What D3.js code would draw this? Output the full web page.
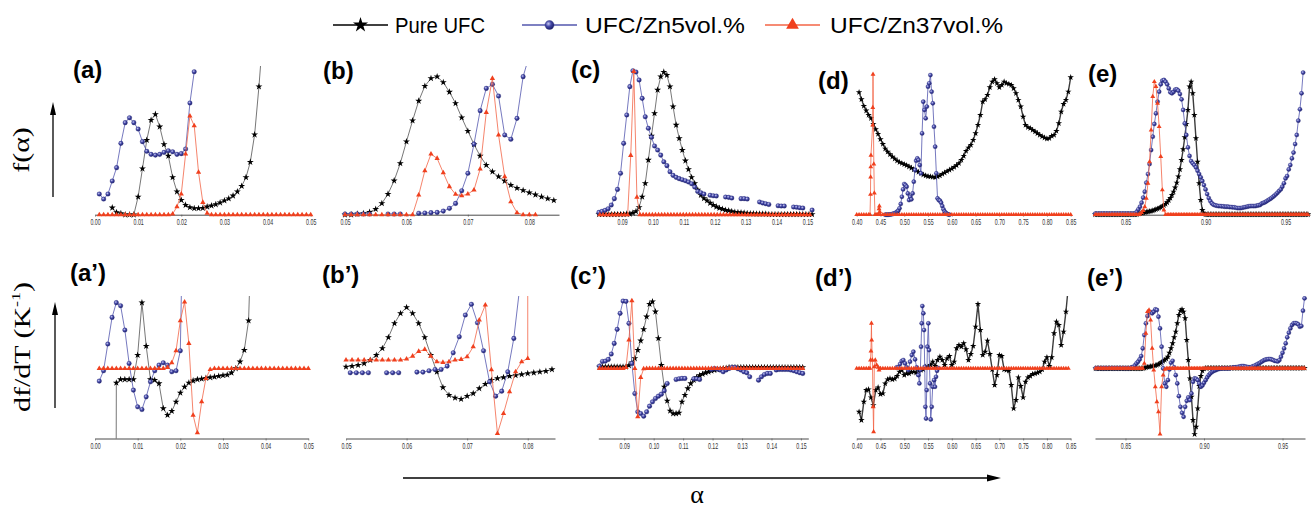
<!DOCTYPE html>
<html>
<head>
<meta charset="utf-8">
<script src="https://cdn.jsdelivr.net/npm/d3@7"></script>
<style>
  body { margin: 0; background: #fff; }
  svg { display: block; }
</style>
</head>
<body>
<svg id="chart" width="1311" height="510"></svg>
<script>
// Sample positions for regularly spaced measurements
const grid = (start, step, n) => d3.range(n).map(i => +(start + i * step).toFixed(5));

// ---------------- legend / tick labels ----------------
const seriesNames = ["Pure UFC", "UFC/Zn5vol.%", "UFC/Zn37vol.%"];
const ticksA = [0.00, 0.01, 0.02, 0.03, 0.04, 0.05];
const ticksB = [0.05, 0.06, 0.07, 0.08];
const ticksC = [0.09, 0.10, 0.11, 0.12, 0.13, 0.14, 0.15];
const ticksD = [0.40, 0.45, 0.50, 0.55, 0.60, 0.65, 0.70, 0.75, 0.80, 0.85];
const ticksE = [0.85, 0.90, 0.95];

// ---------------- f(alpha) panels (relative units) ----------------
const aPure = [0.048,0.016,0.009,0,0,0,0.124,0.318,0.516,0.654,0.694,0.608,0.486,0.406,0.258,0.159,0.101,0.067,0.051,0.044,
  0.044,0.046,0.055,0.062,0.071,0.083,0.097,0.111,0.131,0.159,0.198,0.258,0.364,0.553,0.885,1.27];
const aZn5 = [0.143,0.108,0.143,0.233,0.325,0.493,0.636,0.670,0.636,0.592,0.505,0.438,0.417,0.412,0.417,0.431,0.442,0.435,0.417,0.422,
  0.454,0.772,0.988];
const aZn37 = [0,0,0,0,0,0,0,0,0,0,
  0,0,0,0,0,0,0,0.005,0.055,0.143,
  0.419,0.682,0.615,0.293,0.085,0.01,0,0,0,0,
  0,0,0,0,0,0,0,0,0,0,
  0,0,0,0,0,0,0,0,0,0];

const bPure = [0,0,0.005,0.009,0.018,0.039,0.078,0.143,0.235,0.355,
  0.505,0.650,0.786,0.889,0.942,0.954,0.915,0.848,0.770,0.671,
  0.578,0.486,0.406,0.343,0.297,0.263,0.233,0.205,0.184,0.168,
  0.152,0.138,0.124,0.111,0.099];
const bZn5 = [0.005,0.005,0.005,0.005,0.005,null,null,0.005,0.005,0.005,
  null,null,0.010,0.012,0.014,0.016,0.025,0.044,0.078,0.166,
  0.286,0.488,0.719,0.873,0.901,0.820,0.551,0.521,0.666,0.954,1.1];
const bZn37 = [0,0,0,0,0,0,0,0,0,0,
  0,0,0.136,0.304,0.419,0.389,0.290,0.194,0.141,0.131,
  0.143,0.171,0.316,0.707,0.942,0.551,0.263,0.090,0.014,0,
  0,0];

const cPure = [0.002,0.002,0.002,0.002,0.002,0.002,0.002,0.002,0.002,0.005,
  0.005,0.012,0.023,0.051,0.124,0.217,0.378,0.544,0.700,0.862,
  0.954,0.986,0.965,0.885,0.747,0.620,0.528,0.447,0.373,0.313,
  0.258,0.217,0.171,0.136,0.113,0.097,0.081,0.067,0.055,0.046,
  0.039,0.032,0.028,0.023,0.018,0.016,0.014,0.012,0.009,0.007,
  0.007,0.005,0.005,0.005,0.005,0.002,0.002,0.002,0.002,0.002,
  0.002,0.002,0.002,0.002,0.002,0.002,0.002,0.002,0.002,0.002];
const cZn5 = [0.016,0.023,0.030,0.041,0.067,0.111,0.175,0.286,0.493,0.689,
  0.885,0.995,0.986,0.931,0.804,0.677,0.597,0.535,0.475,0.447,
  0.412,0.366,0.339,0.297,0.272,0.258,0.249,0.242,0.235,0.226,
  0.214,0.191,0.161,0.152,0.143,null,0.134,0.131,0.129,null,
  null,0.122,0.120,0.115,null,null,0.111,0.111,0.108,null,
  null,null,0.088,0.081,0.076,0.071,null,null,0.062,0.060,
  0.060,null,null,0.053,0.051,0.048,0.046,null,null,0.032];
const cZn37 = [0,0,0,0,0,0,0,0,0,0,
  0.41,0.99,0.12,0,0,0,0,0,0,0,
  0,0,0,0,0,0,0,0,0,0,
  0,0,0,0,0,0,0,0,0,0,
  0,0,0,0,0,0,0,0,0,0,
  0,0,0,0,0,0,0,0,0,0,
  0,0,0,0,0,0,0,0,0];

const dPure = [0.846,0.797,0.751,0.719,0.689,0.666,0.627,0.590,0.558,0.521,
  0.488,0.456,0.435,0.417,0.401,0.387,0.373,0.362,0.355,0.348,
  0.341,0.332,0.323,0.313,0.304,0.295,0.286,0.276,0.270,0.265,
  0.263,0.260,0.258,0.263,0.270,0.281,0.290,0.300,0.309,0.318,
  0.329,0.341,0.355,0.378,0.406,0.440,0.463,0.482,0.516,0.562,
  0.620,0.689,0.781,0.797,0.827,0.880,0.919,0.935,0.908,0.880,
  0.896,0.919,0.908,0.903,0.896,0.873,0.839,0.793,0.747,0.677,
  0.620,0.604,0.597,0.585,0.574,0.562,0.551,0.541,0.532,0.525,
  0.528,0.544,0.551,0.578,0.631,0.712,0.765,0.793,0.850,0.949];
const dZn5 = [0,0,0,0,0.002,0.002,0.005,0.007,0.009,0.014,
  0.021,0.028,0.044,0.074,0.124,0.175,0.212,0.205,0.194,0.147,
  0.101,0.124,0.106,0.147,0.228,0.309,0.373,0.389,0.378,0.343,
  0.286,0.562,0.781,0.724,0.666,0.747,0.885,0.908,0.965,0.850,
  0.770,0.608,0.470,0.286,0.113,0.101,0.097,0.083,0.060,0.037,
  0.021,0.012,0.005,0.002,0];
const dZn37X = [...grid(0.400, 0.005, 6),
  0.4280,0.4290,0.4293,0.4296,0.4300,0.4335,0.4338,0.4343,0.4360,0.4371,0.4385,0.4410,0.4435,0.4460,0.4470,0.4477,0.4485,0.4495,
  ...grid(0.455, 0.005, 80)];
const dZn37 = [0,0,0,0,0,0,
  0,0.14,0.26,0.33,0.41,0.62,0.74,0.97,0.35,0.15,0,0,0,0,0.04,0.06,0.02,0,
  0,0,0,0,0,0,0,0,0,0, 0,0,0,0,0,0,0,0,0,0, 0,0,0,0,0,0,0,0,0,0, 0,0,0,0,0,0,0,0,0,0,
  0,0,0,0,0,0,0,0,0,0, 0,0,0,0,0,0,0,0,0,0, 0,0,0,0,0,0,0,0,0,0, 0,0,0,0,0,0,0,0,0,0];

const ePure = [0.002,0.002,0.002,0.002,0.002,0.002,0.002,0.002,0.002,0.002,
  0.002,0.002,0.002,0.002,0.002,0.002,0.002,0.002,0.002,0.002,
  0.002,0.002,0.002,0.002,0.002,0.002,0.002,0.007,0.009,0.012,
  0.014,0.016,0.018,0.021,0.023,0.025,0.028,0.032,0.037,0.041,
  0.046,0.051,0.058,0.065,0.074,0.085,0.099,0.115,0.136,0.159,
  0.187,0.221,0.263,0.313,0.378,0.452,0.535,0.627,0.724,0.885,
  0.919,0.839,0.689,0.528,0.366,0.217,0.101,0.032,0.009,0.002,
  0.002,0.002,0.002,0.002,0.002,0.002,0.002,0.002,0.002,0.002,
  0.002,0.002,0.002,0.002,0.002,0.002,0.002,0.002,0.002,0.002,
  0.002,0.002,0.002,0.002,0.002,0.002,0.002,0.002,0.002,0.002,
  0.002,0.002,0.002,0.002,0.002,0.002,0.002,0.002,0.002,0.002,
  0.002,0.002,0.002,0.002,0.002,0.002,0.002,0.002,0.002,0.002,
  0.002,0.002,0.002,0.002,0.002,0.002,0.002,0.002,0.002,0.002,
  0.002,0.002,0.002,0.002];
const eZn5 = [0.007,0.007,0.007,0.007,0.007,0.007,0.007,0.007,0.007,0.007,
  0.007,0.007,0.007,0.007,0.007,0.007,0.007,0.007,0.007,0.007,
  0.007,0.007,0.007,0.007,0.007,0.007,0.021,0.037,0.055,0.083,
  0.118,0.159,0.221,0.281,0.350,0.447,0.539,0.627,0.700,0.781,
  0.850,0.901,0.926,0.931,0.919,0.901,0.873,0.846,0.839,0.848,
  0.864,0.866,0.857,0.834,0.797,0.724,0.631,0.551,0.465,0.406,
  0.371,0.355,0.343,0.327,0.304,0.281,0.258,0.233,0.205,0.175,
  0.143,0.115,0.094,0.078,0.069,0.065,0.062,0.060,0.060,0.058,
  0.058,0.055,0.055,0.055,0.053,0.053,0.051,0.051,0.048,0.046,
  0.046,0.046,0.048,0.051,0.053,0.055,0.058,0.060,0.060,0.060,
  0.060,0.062,0.065,0.067,0.076,0.081,0.085,0.092,0.099,0.106,
  0.113,0.122,0.131,0.141,0.152,0.164,0.175,0.194,0.217,0.251,
  0.267,0.313,0.343,0.389,0.429,0.488,0.551,0.650,0.728,0.839,
  0.982];
const eZn37 = [0,0,0,0,0,0,0,0,0,0,
  0,0,0,0,0,0,0,0,0,0,
  0,0,0,0,0,0,0,0,0.005,0.014,
  0.028,0.055,0.113,0.217,0.366,0.585,0.816,0.919,0.885,0.770,
  0.608,0.401,0.171,0.032,0,0,0,0,0,0,
  0,0,0,0,0,0,0,0,0,0, 0,0,0,0,0,0,0,0,0,0,
  0,0,0,0,0,0,0,0,0,0, 0,0,0,0,0,0,0,0,0,0,
  0,0,0,0,0,0,0,0,0,0, 0,0,0,0,0,0,0,0,0,0,
  0,0,0,0,0,0,0,0,0,0, 0,0,0,0,0,0,0,0,0,0,
  0,0,0,0];

// ---------------- df/dT panels (relative units) ----------------
const apPure = [-30,-0.210,-0.161,-0.161,-0.161,-0.161,0.195,0.961,0.327,-0.161,
  -0.171,-0.220,-0.585,-0.683,-0.624,-0.488,-0.356,-0.268,-0.210,-0.180,
  -0.161,-0.151,-0.141,-0.132,-0.122,-0.112,-0.102,-0.093,-0.063,0,
  0.098,0.268,0.698,2.7];
const apZn5 = [-0.185,-0.034,0.356,0.746,0.961,0.917,0.561,0.073,-0.317,-0.561,
  -0.600,-0.415,-0.195,-0.034,0.049,0.083,0.049,-0.049,-0.034,0.259,3.7];
const apZn37 = [0,0,0,0,0,0,0,0,0,0,
  0,0,0,0,0,0,0.015,0.083,0.259,0.698,
  0.971,0.366,-0.683,-0.941,-0.488,-0.146,-0.015,0,0,0,
  0,0,0,0,0,0,0,0,0,0,
  0,0,0,0,0,0,0,0,0,0];

const bpPure = [0.024,0.034,0.049,0.073,0.122,0.195,0.293,0.454,0.659,0.805,
  0.893,0.805,0.659,0.454,0.195,-0.049,-0.278,-0.390,-0.429,-0.449,
  -0.405,-0.366,-0.293,-0.229,-0.171,-0.146,-0.132,-0.112,-0.102,-0.088,
  -0.073,-0.063,-0.049,-0.039,-0.015];
const bpZn5 = [-0.063,-0.063,-0.063,-0.063,null,null,-0.063,-0.063,-0.063,null,
  null,-0.054,-0.054,-0.034,-0.015,-0.015,0.034,0.229,0.463,0.780,
  0.937,0.668,0.259,-0.195,-0.405,-0.332,-0.049,0.439,1.2];
const bpZn37X = [...grid(0.050, 0.001, 31), 0.0801];
const bpZn37 = [0.122,0.122,0.122,0.122,0.122,0.122,0.122,0.122,0.122,0.122,
  0.137,0.180,0.249,0.278,0.180,0.098,0.088,0.098,0.122,0.132,
  0.171,0.317,0.707,0.927,-0.02,-0.951,-0.659,-0.341,-0.049,0.098,
  0.146,40];

const cpPure = [0.024,0.024,0.024,0.024,0.024,0.024,0.024,0.024,0.024,0.024,
  0.044,0.083,0.146,0.268,0.405,0.571,0.756,0.941,0.976,0.829,
  0.439,0.049,-0.268,-0.473,-0.620,-0.659,-0.659,-0.649,-0.488,-0.390,
  -0.293,-0.220,-0.171,-0.132,-0.102,-0.083,-0.063,-0.049,-0.034,-0.024,
  -0.015,-0.010,0,0.005,0.015,0.015,0.015,0.015,0.015,0.015,
  0.015,0.015,0.015,0.015,0.015,0.015,0.015,0.015,0.015,0.015,
  0.015,0.015,0.015,0.015,0.015,0.015,0.015,0.015,0.015,0.015];
const cpZn5 = [0.034,0.102,0.107,0.132,0.210,0.366,0.571,0.805,0.985,0.980,
  0.659,0.073,-0.366,-0.634,-0.659,-0.698,-0.634,-0.551,-0.488,-0.439,
  -0.405,-0.376,-0.327,-0.220,null,null,-0.161,-0.151,-0.146,-0.146,
  null,null,-0.151,-0.151,-0.161,null,null,null,-0.015,0,
  -0.010,-0.024,-0.049,-0.024,0,0.015,0.015,-0.005,-0.024,-0.049,
  -0.063,-0.122,null,null,-0.171,-0.122,-0.088,-0.073,-0.073,null,
  -0.024,-0.015,-0.015,-0.015,-0.015,-0.024,-0.034,-0.049,-0.063,-0.073];
const cpZn37 = [0,0,0,0,0,0,0,0,0,0.015,
  0.415,0.990,0,-0.707,-0.132,-0.005,0,0,0,0,
  0,0,0,0,0,0,0,0,0,0, 0,0,0,0,0,0,0,0,0,0,
  0,0,0,0,0,0,0,0,0,0, 0,0,0,0,0,0,0,0,0,0,
  0,0,0,0,0,0,0,0,0,0];

const dpPure = [-0.634,-0.756,-0.488,-0.317,-0.307,-0.424,-0.537,-0.317,-0.278,-0.376,
  -0.366,-0.220,-0.161,-0.146,-0.161,-0.151,-0.112,-0.049,-0.024,-0.098,
  -0.073,-0.073,-0.054,-0.049,-0.063,-0.034,-0.024,-0.015,0.024,0.024,
  0.049,0.098,0.034,0.122,0.171,0.122,0.049,0.146,0.180,0.049,
  0.098,0.293,0.341,0.317,0.366,0.278,0.122,0.210,0.327,0.610,
  0.941,0.561,0.195,0.244,0.405,0.210,-0.015,-0.244,-0.098,0.195,
  0.180,-0.015,-0.024,-0.034,-0.244,-0.585,-0.463,-0.132,-0.259,-0.424,
  -0.195,-0.132,-0.112,-0.083,-0.073,-0.063,-0.049,-0.015,0.098,0.161,
  0.034,0.161,0.512,0.683,0.634,0.341,0.537,0.829,1.2];
const dpZn5X = [0.4841,0.4876,0.4911,0.4946,0.4981,0.5016,0.5051,0.5086,0.5121,0.5157,
  0.5192,0.5227,0.5262,0.5297,0.5318,0.5339,0.5353,0.5367,0.5381,0.5402,
  0.5416,0.5430,0.5444,0.5458,0.5472,0.5486,0.5507,0.5521,0.5542,0.5556,
  0.5577,0.5598,0.5626,0.5647,0.5668,0.5689,0.5717];
const dpZn5 = [0.015,0.015,0.063,0.107,0.122,0.073,0.015,-0.024,0.098,0.195,
  0.244,0.132,0.015,-0.098,-0.220,-0.024,0.317,0.659,0.912,0.805,
  0.561,0.024,-0.561,-0.732,-0.317,0.317,0.659,0.268,-0.220,-0.746,
  -0.561,-0.268,-0.171,-0.268,-0.122,-0.034,0.005];
const dpZn37X = [...grid(0.400, 0.005, 6),
  0.4280,0.4290,0.4300,0.4310,0.4315,0.4330,0.4345,0.4355,0.4370,0.4390,0.4420,0.4450,0.4470,0.4490,
  ...grid(0.450, 0.005, 80)];
const dpZn37 = [0,0,0,0,0,0,
  0,0.122,0.254,0.659,0.415,0.122,-0.561,-0.927,0.024,0.122,0.049,0.015,-0.024,0,
  0,0,0,0,0,0,0,0,0,0, 0,0,0,0,0,0,0,0,0,0, 0,0,0,0,0,0,0,0,0,0, 0,0,0,0,0,0,0,0,0,0,
  0,0,0,0,0,0,0,0,0,0, 0,0,0,0,0,0,0,0,0,0, 0,0,0,0,0,0,0,0,0,0, 0,0,0,0,0,0,0,0,0,0];

const epPure = [0,0,0,0,0,0,0,0,0,0, 0,0,0,0,0,0,0,0,0,0, 0,0,0,0,0,0,0,0,0,0,
  0,0.005,0.015,0.020,0.024,0.029,0.034,0.039,0.044,0.049,
  0.059,0.073,0.088,0.107,0.122,0.141,0.171,0.229,0.293,0.366,
  0.454,0.537,0.659,0.780,0.844,0.863,0.829,0.732,0.415,0.122,
  -0.146,-0.415,-0.756,-0.961,-0.854,-0.585,-0.259,-0.112,-0.034,-0.005,
  0.005,0.005,0.005,0.005,0.005,0.005,0.005,0.005,0.005,0.005,
  0.005,0.005,0.005,0.005,0.005,0.005,0.005,0.005,0.005,0.005,
  0.005,0.005,0.005,0.005,0.005,0.005,0.005,0.005,0.005,0.005,
  0.005,0.005,0.005,0.005,0.005,0.005,0.005,0.005,0.005,0.005,
  0.005,0.005,0.005,0.005,0.005,0.005,0.005,0.005,0.005,0.005,
  0.005,0.005,0.005,0.005,0.005,0.005,0.005,0.005,0.005,0.005,
  0.005,0.005,0.005,0.005];
const epZn5 = [0.005,0.005,0.005,0.005,0.005,0.005,0.005,0.005,0.005,0.005,
  0.005,0.005,0.005,0.005,0.005,0.005,0.005,0.005,0.005,0.005,
  0.005,0.005,0.005,0.015,0.024,0.044,0.073,0.098,0.132,0.180,
  0.293,0.488,0.659,0.766,0.820,0.824,0.805,0.829,0.863,0.854,
  0.756,0.585,0.317,0,-0.220,-0.268,-0.171,-0.015,0.083,0.112,
  0.015,-0.098,-0.220,-0.405,-0.561,-0.649,-0.707,-0.561,-0.473,-0.424,
  -0.463,-0.366,-0.195,-0.146,-0.151,-0.171,-0.220,-0.268,-0.249,-0.210,
  -0.171,-0.132,-0.098,-0.073,-0.054,-0.039,-0.029,-0.020,-0.010,-0.005,
  0,0,0,0,0,0,0.005,0.010,0.015,0.015,
  0.020,0.024,0.029,0.034,0.034,0.029,0.024,0.020,0.015,0.020,
  0.029,0.039,0.049,0.063,0.073,0.088,0.102,0.117,0.127,0.132,
  0.137,0.137,0.132,0.122,0.112,0.107,0.102,0.122,0.171,0.229,
  0.293,0.366,0.454,0.522,0.585,0.634,0.659,0.663,0.659,0.644,
  0.610,0.620,0.844,1.024];
const epZn37 = [0,0,0,0,0,0,0,0,0,0, 0,0,0,0,0,0,0,0,0,0, 0,0,0,0,0,0,0,0,0,0,
  0,0.073,0.512,0.829,0.854,0.707,0.293,-0.024,-0.268,-0.488,
  -0.634,-0.961,-0.268,-0.098,-0.015,0,0,0,0,0,
  0,0,0,0,0,0,0,0,0,0, 0,0,0,0,0,0,0,0,0,0,
  0,0,0,0,0,0,0,0,0,0, 0,0,0,0,0,0,0,0,0,0,
  0,0,0,0,0,0,0,0,0,0, 0,0,0,0,0,0,0,0,0,0,
  0,0,0,0,0,0,0,0,0,0, 0,0,0,0,0,0,0,0,0,0,
  0,0,0,0];

// ---------------- layout ----------------
const rows = {
  top:    { domain: [0, 1],        range: [214.7, 70],  clip: [66, 222] },
  bottom: { domain: [-1.024, 1],   range: [438.5, 300], clip: [296, 438.5] }
};

const panels = [
  { label: "(a)", lx: 73, ly: 78, row: "top", domain: [0, 0.05], range: [95, 310.7], ticks: ticksA, series: [
    { kind: "pure", x: grid(0.004, 0.001, aPure.length), y: aPure },
    { kind: "zn5",  x: grid(0.001, 0.001, aZn5.length),  y: aZn5 },
    { kind: "zn37", x: grid(0.001, 0.001, aZn37.length), y: aZn37 } ] },
  { label: "(b)", lx: 323, ly: 79, row: "top", domain: [0.05, 0.08484], range: [345, 559], ticks: ticksB, series: [
    { kind: "pure", x: grid(0.050, 0.001, bPure.length), y: bPure },
    { kind: "zn5",  x: grid(0.050, 0.001, bZn5.length),  y: bZn5 },
    { kind: "zn37", x: grid(0.050, 0.001, bZn37.length), y: bZn37 } ] },
  { label: "(c)", lx: 571, ly: 78, row: "top", domain: [0.0823, 0.1517], range: [598.3, 812.7], ticks: ticksC, series: [
    { kind: "pure", x: grid(0.0825, 0.001, cPure.length), y: cPure },
    { kind: "zn5",  x: grid(0.0825, 0.001, cZn5.length),  y: cZn5 },
    { kind: "zn37", x: grid(0.0828, 0.001, cZn37.length), y: cZn37 } ] },
  { label: "(d)", lx: 818, ly: 89, row: "top", domain: [0.40, 0.85], range: [856.7, 1070.7], ticks: ticksD, dense: true, series: [
    { kind: "pure", x: grid(0.405, 0.005, dPure.length), y: dPure },
    { kind: "zn5",  x: grid(0.460, 0.0025, dZn5.length), y: dZn5 },
    { kind: "zn37", x: dZn37X, y: dZn37 } ] },
  { label: "(e)", lx: 1088, ly: 82, row: "top", domain: [0.8309, 0.9653], range: [1095, 1310], ticks: ticksE, dense: true, series: [
    { kind: "pure", x: grid(0.831, 0.001, ePure.length), y: ePure },
    { kind: "zn5",  x: grid(0.831, 0.001, eZn5.length),  y: eZn5 },
    { kind: "zn37", x: grid(0.831, 0.001, eZn37.length), y: eZn37 } ] },

  { label: "(a’)", lx: 70, ly: 281, row: "bottom", domain: [0, 0.05], range: [95, 308.3], ticks: ticksA, series: [
    { kind: "pure", x: grid(0.004, 0.001, apPure.length), y: apPure },
    { kind: "zn5",  x: grid(0.001, 0.001, apZn5.length),  y: apZn5 },
    { kind: "zn37", x: grid(0.001, 0.001, apZn37.length), y: apZn37 } ] },
  { label: "(b’)", lx: 322, ly: 283, row: "bottom", domain: [0.05, 0.0845], range: [346, 555], ticks: ticksB, series: [
    { kind: "pure", x: grid(0.050, 0.001, bpPure.length), y: bpPure },
    { kind: "zn5",  x: grid(0.0507, 0.001, bpZn5.length), y: bpZn5 },
    { kind: "zn37", x: bpZn37X, y: bpZn37 } ] },
  { label: "(c’)", lx: 570, ly: 284, row: "bottom", domain: [0.0812, 0.1525], range: [598.3, 808.3], ticks: ticksC, series: [
    { kind: "pure", x: grid(0.0816, 0.001, cpPure.length), y: cpPure },
    { kind: "zn5",  x: grid(0.0816, 0.001, cpZn5.length),  y: cpZn5 },
    { kind: "zn37", x: grid(0.0816, 0.001, cpZn37.length), y: cpZn37 } ] },
  { label: "(d’)", lx: 815, ly: 286, row: "bottom", domain: [0.40, 0.85], range: [856.7, 1070.7], ticks: ticksD, dense: true, series: [
    { kind: "pure", x: grid(0.405, 0.005, dpPure.length), y: dpPure },
    { kind: "zn5",  x: dpZn5X, y: dpZn5 },
    { kind: "zn37", x: dpZn37X, y: dpZn37 } ] },
  { label: "(e’)", lx: 1087, ly: 286, row: "bottom", domain: [0.8306, 0.9643], range: [1095, 1305], ticks: ticksE, dense: true, series: [
    { kind: "pure", x: grid(0.831, 0.001, epPure.length), y: epPure },
    { kind: "zn5",  x: grid(0.831, 0.001, epZn5.length),  y: epZn5 },
    { kind: "zn37", x: grid(0.831, 0.001, epZn37.length), y: epZn37 } ] }
];

// ---------------- styles ----------------
const styles = {
  pure: { line: "#3c3c3c", width: 0.7, fill: "#000",    symbol: d3.symbolStar,     size: 15 },
  zn5:  { line: "#5357ae", width: 0.8, fill: "url(#ball)", r: 2.3 },
  zn37: { line: "#f36446", width: 0.8, fill: "#f0401e", symbol: d3.symbolTriangle, size: 12 }
};

const svg = d3.select("#chart");
const defs = svg.append("defs");
const ball = defs.append("radialGradient").attr("id", "ball")
  .attr("cx", "38%").attr("cy", "36%").attr("r", "62%");
ball.append("stop").attr("offset", "0%").attr("stop-color", "#c8caf2");
ball.append("stop").attr("offset", "50%").attr("stop-color", "#4549a8");
ball.append("stop").attr("offset", "100%").attr("stop-color", "#1f226e");

// ---------------- panels ----------------
panels.forEach((p, i) => {
  const r = rows[p.row];
  const x = d3.scaleLinear().domain(p.domain).range(p.range);
  const y = d3.scaleLinear().domain(r.domain).range(r.range);
  const g = svg.append("g");

  const axis = d3.axisBottom(x).tickValues(p.ticks).tickSize(2).tickSizeOuter(0).tickPadding(2)
    .tickFormat(d3.format(".2f"));
  const ag = g.append("g").attr("transform", `translate(0,${r.range[0]})`).call(axis);
  ag.select(".domain").attr("stroke", "#4a4a4a").attr("stroke-width", 1);
  ag.selectAll(".tick line").attr("stroke", "#4a4a4a").attr("stroke-width", 0.6);
  ag.selectAll(".tick text")
    .attr("fill", "#333").attr("font-size", 8.5)
    .attr("font-family", "'Liberation Sans', Arial, sans-serif")
    .attr("transform", "scale(0.62,1)");

  const cid = "clip" + i;
  defs.append("clipPath").attr("id", cid).append("rect")
    .attr("x", p.range[0] - 6).attr("y", r.clip[0])
    .attr("width", p.range[1] - p.range[0] + 12).attr("height", r.clip[1] - r.clip[0]);
  const plot = g.append("g").attr("clip-path", `url(#${cid})`);
  const k = p.dense ? 0.85 : 1;

  p.series.forEach(s => {
    const st = styles[s.kind];
    const pts = s.x.map((xv, j) => [xv, s.y[j]]);
    const line = d3.line().defined(d => d[1] != null).x(d => x(d[0])).y(d => y(d[1]));
    const w = (p.dense && s.kind === "pure") ? 1.4 : st.width;
    plot.append("path").datum(pts).attr("d", line)
      .attr("fill", "none").attr("stroke", st.line).attr("stroke-width", w);
    const marks = pts.filter(d => d[1] != null);
    if (s.kind === "zn5") {
      plot.append("g").selectAll("circle").data(marks).join("circle")
        .attr("cx", d => x(d[0])).attr("cy", d => y(d[1])).attr("r", st.r * Math.sqrt(k))
        .attr("fill", st.fill).attr("stroke", "#272a7a").attr("stroke-width", 0.3);
    } else {
      const sym = d3.symbol(st.symbol, st.size * k);
      plot.append("g").selectAll("path").data(marks).join("path")
        .attr("transform", d => `translate(${x(d[0])},${y(d[1])})`)
        .attr("d", sym).attr("fill", st.fill);
    }
  });

  svg.append("text").attr("x", p.lx).attr("y", p.ly)
    .attr("font-family", "'Liberation Sans', Arial, sans-serif")
    .attr("font-weight", "bold").attr("font-size", 24).attr("fill", "#000")
    .text(p.label);
});

// ---------------- legend ----------------
const legend = [
  { kind: "pure", x1: 333, x2: 388, tx: 395, tw: 90 },
  { kind: "zn5",  x1: 522, x2: 577, tx: 585, tw: 160 },
  { kind: "zn37", x1: 765, x2: 820, tx: 830, tw: 173 }
];
const lg = svg.append("g");
legend.forEach((l, i) => {
  const st = styles[l.kind];
  const cy = 25;
  lg.append("line").attr("x1", l.x1).attr("x2", l.x2).attr("y1", cy).attr("y2", cy)
    .attr("stroke", l.kind === "pure" ? "#000" : st.line).attr("stroke-width", 1.4);
  const mx = (l.x1 + l.x2) / 2;
  if (l.kind === "zn5") {
    lg.append("circle").attr("cx", mx).attr("cy", cy).attr("r", 4.5)
      .attr("fill", "url(#ball)").attr("stroke", "#272a7a").attr("stroke-width", 0.4);
  } else {
    lg.append("path").attr("transform", `translate(${mx},${cy})`)
      .attr("d", d3.symbol(st.symbol, 70)).attr("fill", st.fill);
  }
  lg.append("text").attr("x", l.tx).attr("y", cy + 8)
    .attr("font-family", "'Liberation Sans', Arial, sans-serif").attr("font-size", 22)
    .attr("textLength", l.tw).attr("lengthAdjust", "spacingAndGlyphs")
    .attr("fill", "#000").text(seriesNames[i]);
});

// ---------------- axis titles and arrows ----------------
const serif = "'Liberation Serif', 'Times New Roman', serif";
function upArrow(xp, y1, y2) {
  svg.append("line").attr("x1", xp).attr("x2", xp).attr("y1", y1).attr("y2", y2 + 10)
    .attr("stroke", "#000").attr("stroke-width", 1.3);
  svg.append("path").attr("d", `M${xp},${y2} L${xp - 3},${y2 + 13} L${xp + 3},${y2 + 13} Z`).attr("fill", "#000");
}
svg.append("text").attr("transform", "translate(21,150) scale(0.75,1) rotate(-90)")
  .attr("text-anchor", "middle").attr("dominant-baseline", "central")
  .attr("font-family", serif).attr("font-size", 30).text("f(α)");
upArrow(53, 197, 102);

const dft = svg.append("text").attr("transform", "translate(22,347) scale(0.75,1) rotate(-90)")
  .attr("text-anchor", "middle").attr("dominant-baseline", "central")
  .attr("font-family", serif).attr("font-size", 30);
dft.append("tspan").text("df/dT (K");
dft.append("tspan").attr("dy", -10).attr("font-size", 18).text("-1");
dft.append("tspan").attr("dy", 10).text(")");
upArrow(55, 408, 302);

svg.append("line").attr("x1", 403).attr("x2", 990).attr("y1", 478).attr("y2", 478)
  .attr("stroke", "#000").attr("stroke-width", 1.3);
svg.append("path").attr("d", "M1001,478 L987,474.5 L987,481.5 Z").attr("fill", "#000");
svg.append("text").attr("x", 697).attr("y", 503).attr("text-anchor", "middle")
  .attr("font-family", serif).attr("font-size", 26).text("α");
</script>
</body>
</html>
